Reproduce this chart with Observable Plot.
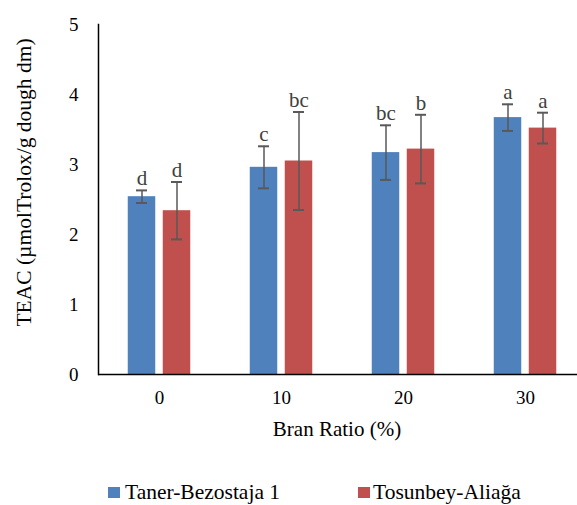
<!DOCTYPE html>
<html><head><meta charset="utf-8">
<script src="https://cdn.jsdelivr.net/npm/d3@7"></script>
<script src="https://cdn.jsdelivr.net/npm/@observablehq/plot@0.6"></script>
<style>
body{margin:0;background:#fff;font-family:"Liberation Serif","Times New Roman",serif;}
#legend{position:relative;width:577px;height:50px;font-size:21.5px;color:#000;}
#legend .sw{position:absolute;width:12px;height:11px;}
#legend .lb{position:absolute;line-height:20px;white-space:nowrap;}
</style>
</head><body>
<div id="chart"></div>
<div id="legend"></div>
<script>
const ratios = ["0", "10", "20", "30"];
const varieties = ["Taner-Bezostaja 1", "Tosunbey-Aliağa"];
const taner = [2.54, 2.96, 3.17, 3.67];
const tanerErr = [0.09, 0.30, 0.39, 0.19];
const tanerLetters = ["d", "c", "bc", "a"];
const tosun = [2.34, 3.05, 3.22, 3.52];
const tosunErr = [0.41, 0.70, 0.49, 0.22];
const tosunLetters = ["d", "bc", "b", "a"];
const colors = ["#4F81BD", "#C0504D"];
const yTicks = [0, 1, 2, 3, 4, 5];
const yTitle = "TEAC (µmolTrolox/g dough dm)";
const xTitle = "Bran Ratio (%)";

const series = [
  ratios.map((r, i) => ({ratio: r, v: taner[i], e: tanerErr[i], lab: tanerLetters[i]})),
  ratios.map((r, i) => ({ratio: r, v: tosun[i], e: tosunErr[i], lab: tosunLetters[i]}))
];
const shift = [-17.5, 17.5];
const serif = "'Liberation Serif','Times New Roman',serif";

const marks = [];
series.forEach((rows, k) => {
  const s = shift[k];
  marks.push(
    Plot.barY(rows, {x: "ratio", y: "v", fill: colors[k], insetLeft: 47.25, insetRight: 47.25, dx: s}),
    Plot.ruleX(rows, {x: "ratio", y1: d => d.v - d.e, y2: d => d.v + d.e, dx: s, stroke: "#595959", strokeWidth: 1.5}),
    Plot.tickY(rows, {x: "ratio", y: d => d.v + d.e, insetLeft: 55.5, insetRight: 55.5, dx: s, stroke: "#595959", strokeWidth: 2}),
    Plot.tickY(rows, {x: "ratio", y: d => d.v - d.e, insetLeft: 55.5, insetRight: 55.5, dx: s, stroke: "#595959", strokeWidth: 2}),
    Plot.text(rows, {x: "ratio", y: d => d.v + d.e, text: "lab", dx: s, dy: -5, lineAnchor: "bottom", fontSize: 21, fontFamily: serif, fill: "#404040"})
  );
});

const chart = Plot.plot({
  width: 577,
  height: 455,
  marginLeft: 98,
  marginRight: 0,
  marginTop: 24,
  marginBottom: 81,
  style: {fontFamily: serif, fontSize: "19px", color: "#000", background: "#fff", overflow: "visible"},
  x: {domain: ratios, range: [98, 586], padding: 0},
  y: {domain: [0, 5]},
  marks: [
    ...marks,
    Plot.axisY({ticks: yTicks, tickSize: 0, tickPadding: 20, label: null, tickFormat: d => String(d), fontFamily: serif}),
    Plot.axisX({tickSize: 0, tickPadding: 16, label: null, fontFamily: serif}),
    Plot.ruleY([0], {stroke: "#000", strokeWidth: 1.5}),
    Plot.frame({anchor: "left", stroke: "#000", strokeWidth: 1.5}),
    Plot.text([yTitle], {frameAnchor: "left", textAnchor: "middle", rotate: -90, dx: -74, dy: -17, fontSize: 21.5, fontFamily: serif}),
    Plot.text([xTitle], {frameAnchor: "bottom", dy: 61, dx: -1, fontSize: 21, fontFamily: serif})
  ]
});
document.getElementById("chart").appendChild(chart);

const legend = document.getElementById("legend");
const lx = [[108, 125], [358, 373]];
varieties.forEach((name, k) => {
  const sw = document.createElement("div");
  sw.className = "sw";
  sw.style.left = lx[k][0] + "px";
  sw.style.top = "32px";
  sw.style.background = colors[k];
  legend.appendChild(sw);
  const lb = document.createElement("div");
  lb.className = "lb";
  lb.style.left = lx[k][1] + "px";
  lb.style.top = "27px";
  lb.textContent = name;
  legend.appendChild(lb);
});
</script>
</body></html>
